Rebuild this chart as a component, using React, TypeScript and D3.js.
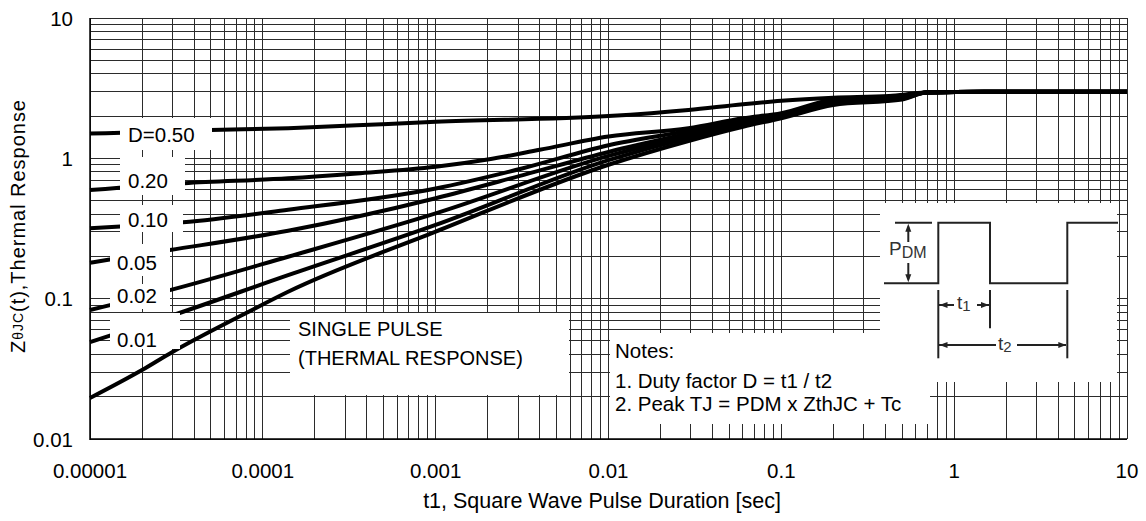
import React, { useEffect, useRef } from 'react';
import * as d3 from 'd3';

// t1 pulse duration [s] vs. normalized thermal response Z(t)
const xTickValues = [1e-5, 1e-4, 1e-3, 1e-2, 1e-1, 1, 10];
const xTickLabels = ["0.00001", "0.0001", "0.001", "0.01", "0.1", "1", "10"];
const yTickValues = [0.01, 0.1, 1, 10];
const yTickLabels = ["0.01", "0.1", "1", "10"];

const seriesNames = ["D=0.50", "0.20", "0.10", "0.05", "0.02", "0.01", "SINGLE PULSE"];

type Pt = [number, number];
const d050: Pt[] = [[1e-5, 1.5], [5e-5, 1.59], [1.4e-4, 1.64], [3.5e-4, 1.72], [1e-3, 1.82], [0.01, 2.0], [0.029, 2.21], [0.06, 2.43], [0.1, 2.57], [0.2, 2.7], [0.42, 2.78], [0.69, 2.94], [1.5, 2.98], [10, 2.98]];
const d020: Pt[] = [[1e-5, 0.594], [3.5e-5, 0.665], [1.4e-4, 0.72], [3.5e-4, 0.78], [1e-3, 0.87], [2e-3, 0.98], [4e-3, 1.15], [0.01, 1.43], [0.029, 1.64], [0.06, 1.93], [0.1, 2.1], [0.2, 2.62], [0.5, 2.78], [0.69, 2.94], [1.5, 2.98], [10, 2.98]];
const d010: Pt[] = [[1e-5, 0.318], [1.5e-5, 0.327], [3.45e-5, 0.35], [1.4e-4, 0.43], [1e-3, 0.61], [3.2e-3, 0.85], [0.01, 1.24], [0.029, 1.57], [0.06, 1.87], [0.1, 2.05], [0.2, 2.57], [0.5, 2.75], [0.69, 2.94], [1.5, 2.98], [10, 2.98]];
const d005: Pt[] = [[1e-5, 0.18], [1.3e-5, 0.19], [2.9e-5, 0.222], [1.4e-4, 0.305], [1e-3, 0.52], [3.2e-3, 0.76], [0.01, 1.11], [0.029, 1.5], [0.06, 1.82], [0.1, 2.02], [0.2, 2.52], [0.5, 2.72], [0.69, 2.94], [1.5, 2.98], [10, 2.98]];
const d002: Pt[] = [[1e-5, 0.083], [2.9e-5, 0.115], [1.4e-4, 0.199], [1e-3, 0.405], [0.01, 1.04], [0.029, 1.45], [0.06, 1.77], [0.1, 2.0], [0.2, 2.48], [0.5, 2.7], [0.69, 2.94], [1.5, 2.98], [10, 2.98]];
const d001: Pt[] = [[1e-5, 0.049], [2.9e-5, 0.075], [1.4e-4, 0.147], [1e-3, 0.335], [0.01, 0.97], [0.029, 1.4], [0.06, 1.72], [0.1, 1.97], [0.2, 2.45], [0.5, 2.66], [0.69, 2.94], [1.5, 2.98], [10, 2.98]];
const single: Pt[] = [[1e-5, 0.0196], [2e-5, 0.031], [3e-5, 0.0417], [4e-5, 0.0507], [8e-5, 0.079], [1.4e-4, 0.112], [1e-3, 0.3], [0.01, 0.9], [0.029, 1.33], [0.06, 1.68], [0.1, 1.93], [0.2, 2.4], [0.5, 2.62], [0.69, 2.94], [1.5, 2.98], [10, 2.98]];
const allSeries = [d050, d020, d010, d005, d002, d001, single];

const noteLines = ["Notes:", "1. Duty factor D = t1 / t2", "2. Peak TJ = PDM x ZthJC + Tc"];
const singleLines = ["SINGLE PULSE", "(THERMAL RESPONSE)"];

// annotation layout (pixels)
const duLabelLayout = [
  { x: 128, y: 142, box: [120, 212, 118, 150] },
  { x: 128, y: 188, box: [120, 185, 157, 195] },
  { x: 128, y: 226.7, box: [120, 183, 205, 232] },
  { x: 117, y: 270, box: [110, 170, 244, 276] },
  { x: 117, y: 303.3, box: [110, 170, 284, 309] },
  { x: 117, y: 346.7, box: [110, 180, 313, 349] },
];

const W = 1146;
const H = 521;
const FONT = "'Liberation Sans', Arial, sans-serif";

const App: React.FC = () => {
  const svgRef = useRef<SVGSVGElement>(null);

  useEffect(() => {
    if (!svgRef.current) return;
    const svg = d3.select(svgRef.current);
    svg.selectAll("*").remove();

    const left = 90, right = 1127, top = 18, bottom = 439;
    const x = d3.scaleLog().domain([1e-5, 10]).range([left, right]);
    const y = d3.scaleLog().domain([0.01, 10]).range([bottom, top]);

    // grid
    const xGrid = d3.range(-5, 1).flatMap(e => d3.range(1, 10).map(k => k * Math.pow(10, e))).concat([10]);
    const yGrid = d3.range(-2, 1).flatMap(e => d3.range(1, 10).map(k => k * Math.pow(10, e))).concat([10]);
    const grid = svg.append("g").attr("shape-rendering", "crispEdges")
      .attr("stroke", "#2b2b2b").attr("stroke-width", 1);
    xGrid.forEach(v => {
      grid.append("line").attr("x1", x(v)).attr("x2", x(v)).attr("y1", top).attr("y2", bottom);
    });
    yGrid.forEach(v => {
      grid.append("line").attr("x1", left).attr("x2", right).attr("y1", y(v)).attr("y2", y(v));
    });
    // frame
    svg.append("line").attr("x1", left).attr("x2", left).attr("y1", top).attr("y2", bottom + 1)
      .attr("stroke", "#000").attr("stroke-width", 1.5);
    svg.append("line").attr("x1", left).attr("x2", right).attr("y1", bottom).attr("y2", bottom)
      .attr("stroke", "#000").attr("stroke-width", 1.5);

    // curves
    const line = d3.line<Pt>().x(d => x(d[0])).y(d => y(d[1])).curve(d3.curveMonotoneX);
    allSeries.forEach(s => {
      svg.append("path").attr("d", line(s) as string)
        .attr("fill", "none").attr("stroke", "#000").attr("stroke-width", 4)
        .attr("stroke-linejoin", "round");
    });

    // duty labels
    duLabelLayout.forEach((l, i) => {
      const [bx0, bx1, by0, by1] = l.box;
      svg.append("rect").attr("x", bx0).attr("y", by0).attr("width", bx1 - bx0).attr("height", by1 - by0)
        .attr("fill", "#fff");
      svg.append("text").attr("x", l.x).attr("y", l.y)
        .style("font-family", FONT).style("font-size", "20.5px").style("fill", "#000")
        .text(seriesNames[i]);
    });

    // single pulse label
    svg.append("rect").attr("x", 290).attr("y", 313).attr("width", 279).attr("height", 82).attr("fill", "#fff");
    singleLines.forEach((t, i) => {
      svg.append("text").attr("x", 298).attr("y", 335.7 + i * 29.3)
        .style("font-family", FONT).style("font-size", "20px").style("fill", "#000").text(t);
    });

    // notes + inset boxes
    svg.append("rect").attr("x", 610).attr("y", 333).attr("width", 320).attr("height", 91).attr("fill", "#fff");
    svg.append("rect").attr("x", 880).attr("y", 203).attr("width", 237).attr("height", 179).attr("fill", "#fff");
    const noteY = [358, 388, 411];
    noteLines.forEach((t, i) => {
      svg.append("text").attr("x", 615).attr("y", noteY[i])
        .style("font-family", FONT).style("font-size", "20.5px").style("fill", "#000").text(t);
    });

    // inset waveform diagram
    const ins = svg.append("g").attr("stroke", "#222").attr("stroke-width", 2).attr("fill", "none");
    const hi = 222.7, lo = 283.3;
    ins.append("path").attr("d", `M884,${lo}H938.3V${hi}H990V${lo}H1067.3V${hi}H1118`);
    ins.append("line").attr("x1", 895).attr("x2", 932).attr("y1", hi).attr("y2", hi);
    // PDM arrows
    ins.append("line").attr("x1", 908.3).attr("x2", 908.3).attr("y1", hi + 4).attr("y2", 242);
    ins.append("line").attr("x1", 908.3).attr("x2", 908.3).attr("y1", 263).attr("y2", lo - 4);
    const arrow = (tx: number, ty: number, dir: "up" | "down" | "left" | "right") => {
      const L = 8, Wd = 3;
      let d = "";
      if (dir === "up") d = `M${tx},${ty}L${tx - Wd},${ty + L}L${tx + Wd},${ty + L}Z`;
      if (dir === "down") d = `M${tx},${ty}L${tx - Wd},${ty - L}L${tx + Wd},${ty - L}Z`;
      if (dir === "left") d = `M${tx},${ty}L${tx + L},${ty - Wd}L${tx + L},${ty + Wd}Z`;
      if (dir === "right") d = `M${tx},${ty}L${tx - L},${ty - Wd}L${tx - L},${ty + Wd}Z`;
      svg.append("path").attr("d", d).attr("fill", "#222");
    };
    arrow(908.3, hi + 1, "up");
    arrow(908.3, lo - 1, "down");
    // t1 / t2 dimension lines
    ins.append("line").attr("x1", 938.3).attr("x2", 938.3).attr("y1", 290).attr("y2", 358.3);
    ins.append("line").attr("x1", 990).attr("x2", 990).attr("y1", 290).attr("y2", 328.3);
    ins.append("line").attr("x1", 1067.3).attr("x2", 1067.3).attr("y1", 290).attr("y2", 358.3);
    ins.append("line").attr("x1", 939).attr("x2", 954).attr("y1", 305).attr("y2", 305);
    ins.append("line").attr("x1", 977).attr("x2", 989).attr("y1", 305).attr("y2", 305);
    arrow(939.5, 305, "left");
    arrow(989, 305, "right");
    ins.append("line").attr("x1", 939).attr("x2", 996).attr("y1", 345).attr("y2", 345);
    ins.append("line").attr("x1", 1017).attr("x2", 1066).attr("y1", 345).attr("y2", 345);
    arrow(939.5, 345, "left");
    arrow(1066.3, 345, "right");

    const insText = (tx: number, ty: number, main: string, sub: string, big: number, small: number, dy: number) => {
      const t = svg.append("text").attr("x", tx).attr("y", ty)
        .style("font-family", FONT).style("fill", "#333");
      t.append("tspan").style("font-size", `${big}px`).text(main);
      t.append("tspan").attr("dy", dy).style("font-size", `${small}px`).text(sub);
    };
    insText(889, 255, "P", "DM", 19, 16, 3);
    insText(957, 309, "t", "1", 19, 15, 2);
    insText(998, 350, "t", "2", 19, 15, 2);

    // tick labels
    xTickValues.forEach((v, i) => {
      svg.append("text").attr("x", x(v)).attr("y", 478).attr("text-anchor", "middle")
        .style("font-family", FONT).style("font-size", "20.5px").style("fill", "#000")
        .text(xTickLabels[i]);
    });
    yTickValues.forEach((v, i) => {
      svg.append("text").attr("x", 73).attr("y", y(v) + 7.5).attr("text-anchor", "end")
        .style("font-family", FONT).style("font-size", "20.5px").style("fill", "#000")
        .text(yTickLabels[i]);
    });

    // axis titles
    svg.append("text").attr("x", 602).attr("y", 508).attr("text-anchor", "middle")
      .style("font-family", FONT).style("font-size", "21.5px").style("fill", "#000")
      .text("t1, Square Wave Pulse Duration [sec]");
    const yt = svg.append("text").attr("transform", "translate(25,353) rotate(-90)")
      .attr("textLength", 253).attr("lengthAdjust", "spacing")
      .style("font-family", FONT).style("fill", "#000");
    yt.append("tspan").style("font-size", "20px").text("Z");
    yt.append("tspan").attr("dy", -2).style("font-size", "14px").text("θJC");
    yt.append("tspan").attr("dy", 2).style("font-size", "20px").text("(t),Thermal Response");
  }, []);

  return (
    <svg ref={svgRef} width={W} height={H}
      style={{ position: "absolute", left: 0, top: 0, background: "#fff" }} />
  );
};

export default App;
